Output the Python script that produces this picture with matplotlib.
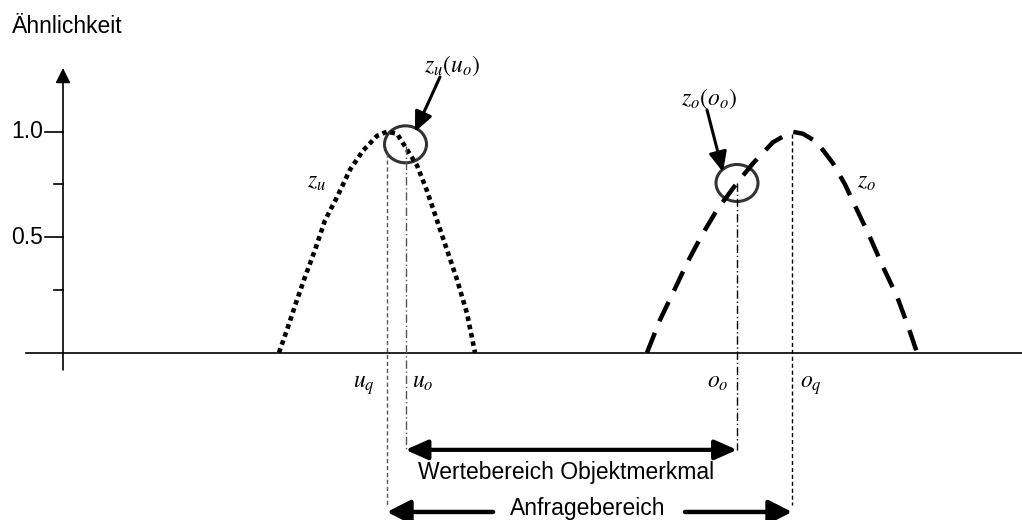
import matplotlib
matplotlib.use("Agg")
import matplotlib.pyplot as plt
from matplotlib.patches import Ellipse

plt.rcParams['font.family'] = ['Liberation Sans', 'DejaVu Sans']
plt.rcParams['mathtext.fontset'] = 'stix'

# ---- data (x: feature value in arbitrary units, y: similarity) ----
zu_x = [216, 225, 234, 242, 252, 262, 274, 287, 300, 314, 324,
        334, 342, 354, 364, 374, 384, 394, 404, 412]
zu_y = [-0.046, 0.076, 0.204, 0.312, 0.44, 0.58, 0.69, 0.82, 0.91, 0.98, 1.0,
        0.99, 0.93, 0.84, 0.72, 0.58, 0.44, 0.30, 0.14, -0.046]

zo_x = [584, 597, 610, 624, 639, 654, 674, 690, 710, 725, 729,
        740, 754, 770, 782, 794, 807, 820, 834, 845, 854]
zo_y = [-0.046, 0.109, 0.237, 0.378, 0.511, 0.63, 0.757, 0.85, 0.95, 0.99, 1.0,
        0.99, 0.95, 0.85, 0.75, 0.63, 0.50, 0.36, 0.22, 0.08, -0.046]

u_q, u_o, o_o, o_q = 324, 342.5, 674, 729
zu_at_uo = 0.94
zo_at_oo = 0.757

major_ticks = [1.0, 0.5]
major_labels = ['1.0', '0.5']
minor_ticks = [0.75, 0.25]

baseline = -0.046

fig = plt.figure(figsize=(10.22, 5.2), dpi=100)
ax = fig.add_axes([0, 0, 1, 1])
ax.set_xlim(-63, 959)
ax.set_ylim(-0.838, 1.623)
ax.axis('off')

# axes
ax.plot([-37, 959], [baseline, baseline], color='black', lw=1.2)
ax.annotate('', xy=(0, 1.301), xytext=(0, -0.128),
            arrowprops=dict(arrowstyle='-|>,head_length=0.9,head_width=0.45',
                            lw=1.2, color='black', shrinkA=0, shrinkB=0,
                            mutation_scale=10))
for t, lab in zip(major_ticks, major_labels):
    ax.plot([-18, 0], [t, t], color='black', lw=1.2)
    ax.text(-20, t, lab, ha='right', va='center', fontsize=16.5)
for t in minor_ticks:
    ax.plot([-9, 0], [t, t], color='black', lw=1.2)
ax.text(-51, 1.467, 'Ähnlichkeit', ha='left', va='baseline', fontsize=16.5)

# curves
ax.plot(zu_x, zu_y, color='black', lw=3.3, linestyle=(0, (1, 0.85)),
        dash_capstyle='butt')
ax.plot(zo_x, zo_y, color='black', lw=3.2, linestyle=(0, (4.8, 2.8)),
        dash_capstyle='butt')

# vertical guide lines
ax.plot([u_q, u_q], [0.9, -0.767], color='#555555', lw=1, linestyle=(0, (3, 2)))
ax.plot([u_o, u_o], [0.93, -0.506], color='#555555', lw=1, linestyle=(0, (6, 2, 1, 2)))
ax.plot([o_o, o_o], [zo_at_oo, -0.506], color='black', lw=1, linestyle=(0, (6, 2, 1, 2)))
ax.plot([o_q, o_q], [0.99, -0.767], color='black', lw=1, linestyle=(0, (3, 2)))

# circles
for cx, cy in [(u_o, zu_at_uo), (o_o, zo_at_oo)]:
    ax.add_patch(Ellipse((cx, cy), 42, 0.175, fill=False,
                         edgecolor='#333333', lw=2.2))

# annotation arrows
ann = dict(arrowstyle='-|>,head_length=0.6,head_width=0.27', lw=2.2,
           color='black', shrinkA=0, shrinkB=0, mutation_scale=20)
ax.annotate('', xy=(352, 0.999), xytext=(377, 1.259), arrowprops=ann)
ax.annotate('', xy=(660, 0.809), xytext=(644, 1.103), arrowprops=ann)

mfs = 17
ax.text(361, 1.283, r'$z_u(u_o)$', ha='left', va='baseline', fontsize=mfs)
ax.text(618, 1.126, r'$z_o(o_o)$', ha='left', va='baseline', fontsize=mfs)
ax.text(244, 0.734, r'$z_u$', ha='left', va='baseline', fontsize=mfs)
ax.text(794, 0.734, r'$z_o$', ha='left', va='baseline', fontsize=mfs)
ax.text(290, -0.21, r'$u_q$', ha='left', va='baseline', fontsize=mfs)
ax.text(349, -0.21, r'$u_o$', ha='left', va='baseline', fontsize=mfs)
ax.text(644, -0.21, r'$o_o$', ha='left', va='baseline', fontsize=mfs)
ax.text(737, -0.21, r'$o_q$', ha='left', va='baseline', fontsize=mfs)

# range arrows
rng = dict(arrowstyle='<|-|>,head_length=0.45,head_width=0.2', lw=3,
           color='black', shrinkA=0, shrinkB=0, mutation_scale=30)
ax.annotate('', xy=(o_o, -0.506), xytext=(u_o, -0.506), arrowprops=rng)
ax.text(503, -0.615, 'Wertebereich Objektmerkmal', ha='center', va='center',
        fontsize=16.5)

one = dict(arrowstyle='-|>,head_length=0.47,head_width=0.24', lw=3.2,
           color='black', shrinkA=0, shrinkB=0, mutation_scale=30)
ax.annotate('', xy=(u_q, -0.80), xytext=(430, -0.80), arrowprops=one)
ax.annotate('', xy=(o_q, -0.80), xytext=(622, -0.80), arrowprops=one)
ax.text(525, -0.785, 'Anfragebereich', ha='center', va='center', fontsize=16.5)

fig.savefig('out.png', dpi=100)
